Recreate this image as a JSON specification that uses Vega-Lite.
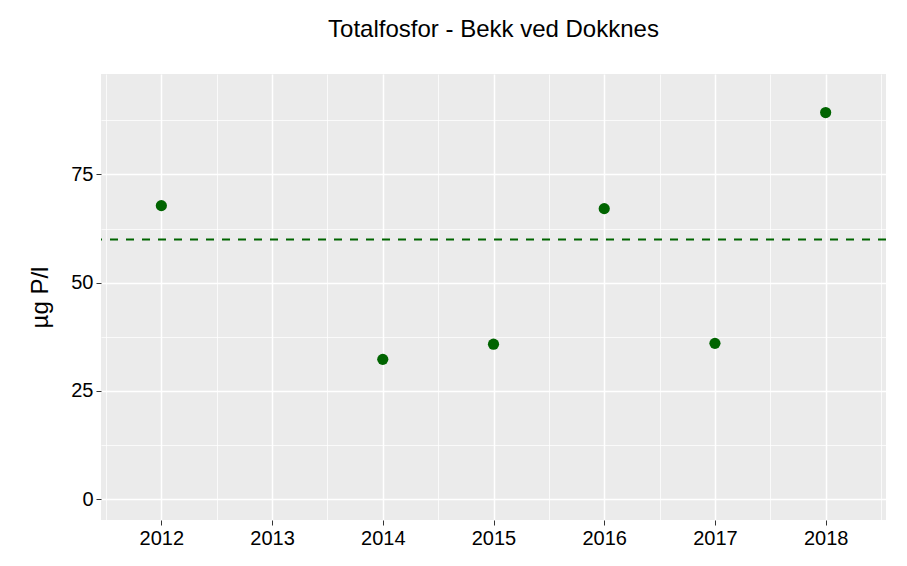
{
  "$schema": "https://vega.github.io/schema/vega-lite/v6.json",
  "width": 785,
  "height": 446,
  "autosize": {"type": "none"},
  "padding": {"left": 101, "top": 74, "right": 21, "bottom": 46},
  "background": "white",
  "config": {
    "view": {"fill": "#EBEBEB", "stroke": null},
    "font": "Liberation Sans",
    "axis": {
      "domain": false,
      "gridColor": "white",
      "tickColor": "#333333",
      "tickSize": 5,
      "labelColor": "black",
      "labelFontSize": 20,
      "labelPadding": 3,
      "titleFontSize": 24,
      "titleFontWeight": "normal",
      "titleColor": "black"
    }
  },
  "title": {
    "text": "Totalfosfor - Bekk ved Dokknes",
    "fontSize": 24,
    "fontWeight": "normal",
    "color": "black",
    "anchor": "middle",
    "offset": 32
  },
  "datasets": {
    "pts": [
      {"year": 2012, "value": 67.8},
      {"year": 2014, "value": 32.3},
      {"year": 2015, "value": 35.8},
      {"year": 2016, "value": 67.1},
      {"year": 2017, "value": 36.0},
      {"year": 2018, "value": 89.3}
    ],
    "ref": [{"limit": 60}]
  },
  "layer": [
    {
      "data": {"name": "pts"},
      "mark": {"type": "point", "filled": true, "size": 125, "color": "#006400", "opacity": 1},
      "encoding": {
        "x": {
          "field": "year", "type": "quantitative",
          "scale": {"domain": [2011.455, 2018.545], "nice": false, "zero": false},
          "axis": {
            "title": null,
            "values": [2011.5, 2012, 2012.5, 2013, 2013.5, 2014, 2014.5, 2015, 2015.5, 2016, 2016.5, 2017, 2017.5, 2018, 2018.5],
            "labelExpr": "datum.value % 1 == 0 ? format(datum.value, 'd') : ''",
            "gridWidth": {"condition": {"test": "datum.value % 1 == 0", "value": 1.5}, "value": 0.75},
            "tickOpacity": {"condition": {"test": "datum.value % 1 == 0", "value": 1}, "value": 0}
          }
        },
        "y": {
          "field": "value", "type": "quantitative",
          "scale": {"domain": [-4.8, 98.2], "nice": false, "zero": false},
          "axis": {
            "title": "µg P/l",
            "titlePadding": 18,
            "values": [0, 12.5, 25, 37.5, 50, 62.5, 75, 87.5],
            "labelExpr": "datum.value % 25 == 0 ? format(datum.value, 'd') : ''",
            "gridWidth": {"condition": {"test": "datum.value % 25 == 0", "value": 1.5}, "value": 0.75},
            "tickOpacity": {"condition": {"test": "datum.value % 25 == 0", "value": 1}, "value": 0}
          }
        }
      }
    },
    {
      "data": {"name": "ref"},
      "mark": {"type": "rule", "color": "#006400", "strokeWidth": 2, "strokeDash": [8, 8]},
      "encoding": {
        "y": {"field": "limit", "type": "quantitative"}
      }
    }
  ]
}
